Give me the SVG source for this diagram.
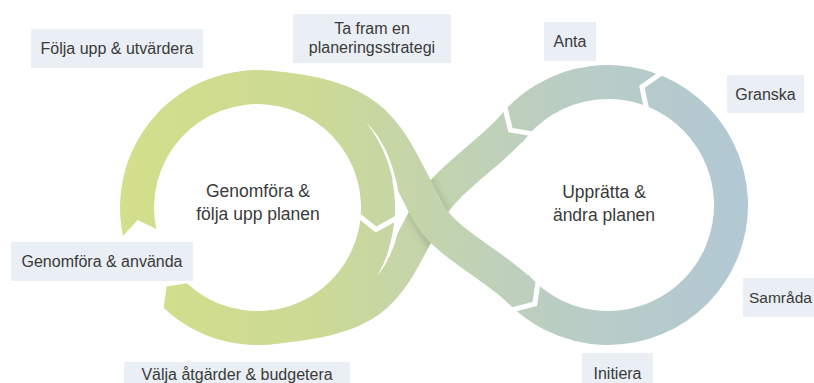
<svg xmlns="http://www.w3.org/2000/svg" width="814" height="383" viewBox="0 0 814 383">
  <defs>
    <linearGradient id="rib" gradientUnits="userSpaceOnUse" x1="120" y1="0" x2="750" y2="0">
      <stop offset="0" stop-color="#d3df8b"/>
      <stop offset="0.3" stop-color="#ccda94"/>
      <stop offset="0.5" stop-color="#c3d4ae"/>
      <stop offset="0.7" stop-color="#bacdc4"/>
      <stop offset="1" stop-color="#b2c8d4"/>
    </linearGradient>
    <filter id="soft" x="-20%" y="-20%" width="140%" height="140%">
      <feGaussianBlur stdDeviation="3"/>
    </filter>
    <mask id="maskB" maskUnits="userSpaceOnUse" x="0" y="0" width="814" height="383">
      <path d="M 513.8 125.9 C 491.3 152.7 444.5 181.1 428 212 C 385.7 291.5 382.5 317.5 268 327.5" fill="none" stroke="#ffffff" stroke-width="34"/>
    </mask>
    <style>
      .band { fill: none; stroke: url(#rib); stroke-width: 34; stroke-linecap: butt; }
      .gap { fill: none; stroke: #ffffff; stroke-width: 5; stroke-linejoin: miter; }
      .box { fill: #e9eff4; }
      .lbl { font-family: "Liberation Sans", Arial, sans-serif; font-size: 16px; fill: #3a3a3a; text-anchor: middle; }
      .ctr { font-family: "Liberation Sans", Arial, sans-serif; font-size: 17.5px; fill: #3a3a3a; text-anchor: middle; }
    </style>
  </defs>

  <g id="connectors">
    <!-- left loop ring (clockwise) -->
    <path id="left-ring" fill="url(#rib)" d="M 123.0 236.1 A 137.5 137.5 0 1 1 163.7 308.1 L 166.6 286.6 L 186.9 283.2 A 103.5 103.5 0 1 0 156.3 229.0 L 137.7 220.1 Z"/>
    <polyline class="gap" points="398.2,217.3 376.0,229.5 357.3,214.5"/>
    <!-- right loop ring (counter-clockwise) -->
    <path id="right-ring" class="band" d="M 515.2 285.7 A 123 123 0 1 0 508.5 132.7"/>
    <!-- strand from right loop top to left loop bottom -->
    <path id="strand-b" class="band" d="M 513.8 125.9 C 491.3 152.7 444.5 181.1 428 212 C 385.7 291.5 382.5 317.5 268 327.5"/>
    <!-- soft shadow of the upper strand on the lower one -->
    <g mask="url(#maskB)">
      <path d="M 400 158 C 412 180 420 197 428 212 C 440 235 452 250 475 265" fill="none" stroke="#55664a" stroke-opacity="0.22" stroke-width="38" filter="url(#soft)"/>
    </g>
    <!-- strand from left loop top to right loop bottom -->
    <path id="strand-a" class="band" d="M 268.0 87.5 C 382.5 97.5 385.7 132.5 428 212 C 444.5 242.9 492.7 263.7 521.0 292.0"/>
    <!-- thin white crescent between the left ring and the strands -->
    <path fill="#ffffff" d="M 366.2 122.5 Q 395 150 401 211 Q 398 250 377 276.5 A 138 138 0 0 0 366.2 122.5 Z"/>
    <polyline class="gap" points="663.1,72.0 641.9,86.8 647.0,110.8"/>
    <polyline class="gap" points="509.8,310.3 534.8,303.9 538.4,279.6"/>
    <polyline class="gap" points="504.4,105.0 510.4,130.1 534.6,134.1"/>
  </g>

  <g id="center-left">
    <text class="ctr" x="258" y="197">Genomföra &amp;</text>
    <text class="ctr" x="258" y="220">följa upp planen</text>
  </g>
  <g id="center-right">
    <text class="ctr" x="604" y="198">Upprätta &amp;</text>
    <text class="ctr" x="604" y="221">ändra planen</text>
  </g>

  <g id="folja-upp">
    <rect class="box" x="31" y="29" width="172" height="39"/>
    <text class="lbl" x="117" y="54">Följa upp &amp; utvärdera</text>
  </g>
  <g id="ta-fram">
    <rect class="box" x="293" y="14" width="158" height="49"/>
    <text class="lbl" x="372" y="34">Ta fram en</text>
    <text class="lbl" x="372" y="53">planeringsstrategi</text>
  </g>
  <g id="anta">
    <rect class="box" x="544" y="22" width="52" height="39"/>
    <text class="lbl" x="570" y="47">Anta</text>
  </g>
  <g id="granska">
    <rect class="box" x="727" y="75" width="77" height="38"/>
    <text class="lbl" x="765.5" y="100">Granska</text>
  </g>
  <g id="samrada">
    <rect class="box" x="743" y="278" width="71" height="39"/>
    <text class="lbl" x="749" y="303" style="text-anchor:start;font-size:15.5px">Samråda</text>
  </g>
  <g id="initiera">
    <rect class="box" x="582" y="353" width="71" height="30"/>
    <text class="lbl" x="617.5" y="379">Initiera</text>
  </g>
  <g id="genomfora-anvanda">
    <rect class="box" x="11" y="242" width="182" height="39"/>
    <text class="lbl" x="102" y="267">Genomföra &amp; använda</text>
  </g>
  <g id="valja">
    <rect class="box" x="124" y="362" width="226" height="21"/>
    <text class="lbl" x="237" y="380">Välja åtgärder &amp; budgetera</text>
  </g>
</svg>
